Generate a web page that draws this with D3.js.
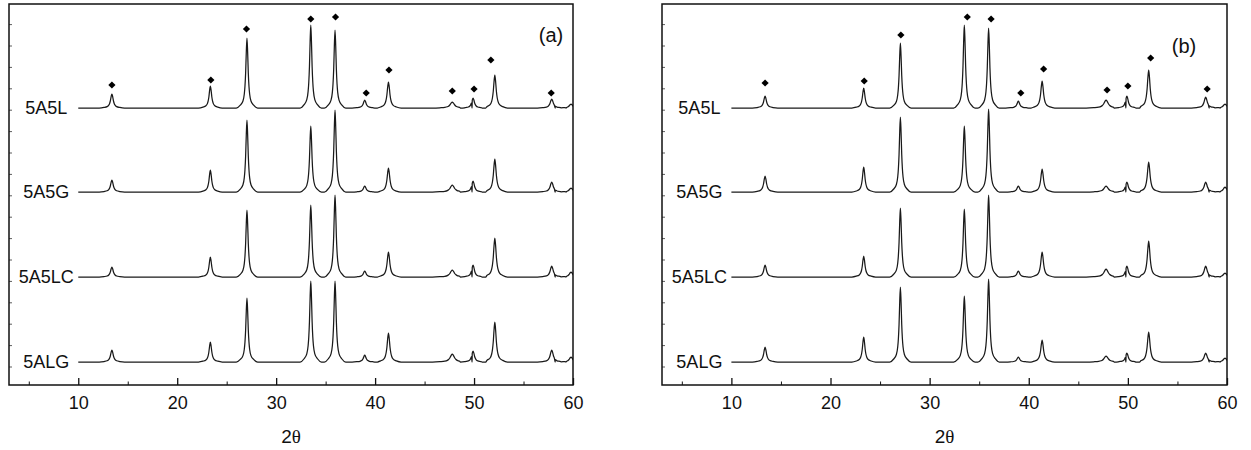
<!DOCTYPE html>
<html>
<head>
<meta charset="utf-8">
<script src="https://cdn.jsdelivr.net/npm/d3@7"></script>
<style>
  html, body { margin: 0; padding: 0; background: #fff; }
  svg { display: block; font-family: Arial, "Liberation Sans", sans-serif; }
</style>
</head>
<body>
<svg id="chart" width="1251" height="450"></svg>
<script>
// ---------------- data ----------------
const seriesNames = ["5A5L", "5A5G", "5A5LC", "5ALG"];
// vertical offset of each pattern (intensity, a.u.)
const seriesOffsets = [277, 193, 108, 23];
// 2θ peak positions (deg) and full widths at half maximum (deg)
const peakPos   = [13.4, 23.35, 27.05, 33.5, 35.95, 38.95, 41.35, 47.8, 49.9, 52.1, 57.85, 59.8];
const peakWidth = [0.32, 0.30, 0.27, 0.27, 0.27, 0.32, 0.32, 0.50, 0.32, 0.32, 0.36, 0.40];
// peak heights above each pattern's baseline, panel (a)
const heightsA_5A5L  = [14, 22, 70, 83, 78, 8, 26, 6, 10, 33, 9, 4];
const heightsA_5A5G  = [12, 22, 72, 66, 82, 6, 24, 7, 11, 33, 10, 4];
const heightsA_5A5LC = [10, 20, 67, 72, 82, 6, 25, 7, 12, 39, 11, 5];
const heightsA_5ALG  = [12, 20, 64, 81, 81, 7, 29, 8, 11, 40, 12, 5];
// peak heights, panel (b)
const heightsB_5A5L  = [12, 20, 65, 83, 80, 7, 27, 8, 12, 38, 11, 4];
const heightsB_5A5G  = [16, 25, 75, 66, 83, 6, 23, 6, 10, 30, 10, 5];
const heightsB_5A5LC = [12, 21, 69, 68, 82, 6, 25, 8, 11, 36, 11, 4];
const heightsB_5ALG  = [15, 25, 75, 66, 83, 5, 22, 6, 9, 30, 9, 4];
// diamond markers on the top pattern: position and height above baseline
const markerPosA = [13.4, 23.4, 27.0, 33.5, 36.0, 39.1, 41.4, 47.8, 50.0, 51.7, 57.8];
const markerHA   = [23, 28, 79, 89, 91, 15, 38, 17, 19, 48, 15];
const markerPosB = [13.4, 23.4, 27.1, 33.8, 36.2, 39.2, 41.5, 47.9, 50.0, 52.3, 58.0];
const markerHB   = [25, 27, 73, 91, 89, 15, 39, 18, 22, 50, 19];
// axis ticks
const xMajorTicks = [10, 20, 30, 40, 50, 60];
const xMinorTicks = [5, 15, 25, 35, 45, 55];
const xDomain = [3, 60];
const patternRange = [10, 60];
const panelTags = ["(a)", "(b)"];
const xTitle = "2";
const xTitleSymbol = "θ";

// ---------------- drawing ----------------
const svg = d3.select("#chart");
const panels = [
  { left: 9,   right: 573,  tag: panelTags[0], tagX: 551,  tagY: 42,
    heights: [heightsA_5A5L, heightsA_5A5G, heightsA_5A5LC, heightsA_5ALG],
    mPos: markerPosA, mH: markerHA },
  { left: 662, right: 1227, tag: panelTags[1], tagX: 1184, tagY: 53,
    heights: [heightsB_5A5L, heightsB_5A5G, heightsB_5A5LC, heightsB_5ALG],
    mPos: markerPosB, mH: markerHB }
];
const plotTop = 4, plotBottom = 385;

// Lorentzian-like profile (style): offsets in FWHM units and fraction of height
const profOff  = [-4, -2.5, -1.5, -1, -0.75, -0.5, -0.25, 0, 0.25, 0.5, 0.75, 1, 1.5, 2.5, 4];
const profFrac = [0, 0.04, 0.1, 0.2, 0.31, 0.5, 0.8, 1, 0.8, 0.5, 0.31, 0.2, 0.1, 0.04, 0];

panels.forEach((p, pi) => {
  const g = svg.append("g");
  const x = d3.scaleLinear().domain(xDomain).range([p.left, p.right]);
  const y = d3.scaleLinear().domain([0, plotBottom - plotTop]).range([plotBottom, plotTop]);

  const clipId = "clip" + pi;
  g.append("clipPath").attr("id", clipId)
    .append("rect").attr("x", p.left).attr("y", plotTop)
    .attr("width", p.right - p.left).attr("height", plotBottom - plotTop);

  // patterns
  const line = d3.line().x(d => x(d[0])).y(d => y(d[1])).curve(d3.curveMonotoneX);
  seriesNames.forEach((name, si) => {
    const off = seriesOffsets[si];
    const pts = [[patternRange[0], off]];
    peakPos.forEach((pp, k) => {
      const h = p.heights[si][k];
      const w = peakWidth[k];
      profOff.forEach((o, j) => pts.push([pp + o * w, off + h * profFrac[j]]));
    });
    pts.push([patternRange[1] + 1, off]);
    pts.sort((a, b) => a[0] - b[0]);
    g.append("path")
      .attr("clip-path", `url(#${clipId})`)
      .attr("d", line(pts.filter(d => d[0] >= patternRange[0])))
      .attr("fill", "none").attr("stroke", "#1a1a1a").attr("stroke-width", 1.25)
      .attr("stroke-linejoin", "round");

    g.append("text")
      .attr("x", x(patternRange[0]) - 32).attr("y", y(off))
      .attr("dy", "0.35em").attr("text-anchor", "middle")
      .attr("font-size", 18).attr("fill", "#111").text(name);
  });

  // diamond markers on the top pattern
  const sym = d3.symbol().type(d3.symbolSquare).size(26);
  p.mPos.forEach((mp, k) => {
    g.append("path").attr("d", sym())
      .attr("transform", `translate(${x(mp)},${y(seriesOffsets[0] + p.mH[k])}) rotate(45)`)
      .attr("fill", "#000");
  });

  // axes
  const xAxis = d3.axisBottom(x).tickValues(xMajorTicks).tickSizeInner(-7)
    .tickSizeOuter(0).tickPadding(11).tickFormat(d3.format("d"));
  const gx = g.append("g").attr("transform", `translate(0,${plotBottom})`).call(xAxis);
  gx.select(".domain").remove();
  gx.selectAll("text").attr("font-size", 18).attr("font-family", "Arial, 'Liberation Sans', sans-serif").attr("fill", "#111");
  gx.selectAll("line").attr("stroke", "#111").attr("stroke-width", 1.3);

  const gxm = g.append("g").attr("transform", `translate(0,${plotBottom})`)
    .call(d3.axisBottom(x).tickValues(xMinorTicks).tickSizeInner(-3.5).tickSizeOuter(0).tickFormat(""));
  gxm.select(".domain").remove();
  gxm.selectAll("line").attr("stroke", "#111").attr("stroke-width", 1);

  const yTicks = d3.range(18.5, plotBottom - plotTop, 21.4);
  const gy = g.append("g").attr("transform", `translate(${p.left},0)`)
    .call(d3.axisLeft(y).tickValues(yTicks).tickSizeInner(-3).tickSizeOuter(0).tickFormat(""));
  gy.select(".domain").remove();
  gy.selectAll("line").attr("stroke", "#333").attr("stroke-width", 0.8);

  // frame
  g.append("rect").attr("x", p.left).attr("y", plotTop)
    .attr("width", p.right - p.left).attr("height", plotBottom - plotTop)
    .attr("fill", "none").attr("stroke", "#111").attr("stroke-width", 1.5);

  // panel tag
  g.append("text").attr("x", p.tagX).attr("y", p.tagY).attr("text-anchor", "middle")
    .attr("font-size", 20).attr("fill", "#111").text(p.tag);

  // x title
  const t = g.append("text").attr("x", (p.left + p.right) / 2).attr("y", 443)
    .attr("text-anchor", "middle").attr("font-size", 19).attr("fill", "#111");
  t.append("tspan").text(xTitle);
  t.append("tspan").attr("font-family", "'Liberation Serif', 'Times New Roman', serif").text(xTitleSymbol);
});
</script>
</body>
</html>
